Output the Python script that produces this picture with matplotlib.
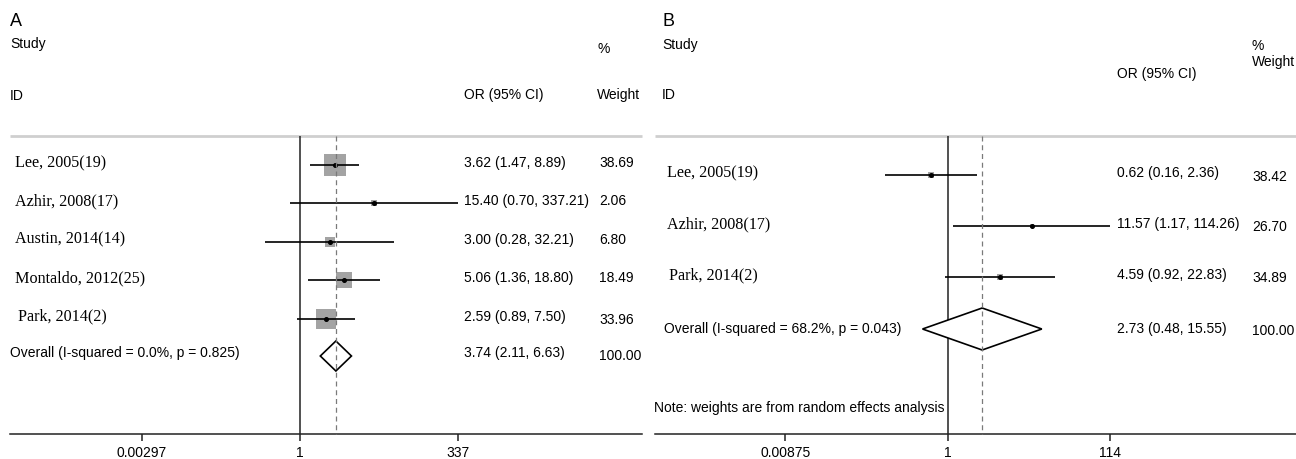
import numpy as np
import matplotlib
matplotlib.use("Agg")
import matplotlib.pyplot as plt
from matplotlib.patches import Polygon

# ---------------- data ----------------
studies_A = ["Lee, 2005(19)", "Azhir, 2008(17)", "Austin, 2014(14)",
             "Montaldo, 2012(25)", "Park, 2014(2)"]
or_A = [3.62, 15.40, 3.00, 5.06, 2.59]
lo_A = [1.47, 0.70, 0.28, 1.36, 0.89]
hi_A = [8.89, 337.21, 32.21, 18.80, 7.50]
w_A = [38.69, 2.06, 6.80, 18.49, 33.96]
overall_A = [3.74, 2.11, 6.63]
overall_label_A = "Overall (I-squared = 0.0%, p = 0.825)"
ticks_A = [0.00297, 1, 337]
ticklabels_A = ["0.00297", "1", "337"]

studies_B = ["Lee, 2005(19)", "Azhir, 2008(17)", "Park, 2014(2)"]
or_B = [0.62, 11.57, 4.59]
lo_B = [0.16, 1.17, 0.92]
hi_B = [2.36, 114.26, 22.83]
w_B = [38.42, 26.70, 34.89]
overall_B = [2.73, 0.48, 15.55]
overall_label_B = "Overall (I-squared = 68.2%, p = 0.043)"
ticks_B = [0.00875, 1, 114]
ticklabels_B = ["0.00875", "1", "114"]
note_B = "Note: weights are from random effects analysis"

# ---------------- layout ----------------
W, H = 1296, 460
fig = plt.figure(figsize=(W / 100, H / 100), dpi=100)
SANS = ["Liberation Sans", "DejaVu Sans"]
SERIF = ["Liberation Serif", "DejaVu Serif"]
FS = 10      # sans text size
FSN = 11.6   # serif study names

ov = fig.add_axes([0, 0, 1, 1])
ov.set_xlim(0, W)
ov.set_ylim(H, 0)
ov.axis("off")


def panel(x0, x1, center_px, px_per_ln, top_y, axis_y, ticks, ticklabels):
    ax = fig.add_axes([x0 / W, 0, (x1 - x0) / W, 1])
    ax.set_xscale("log")
    ax.set_xlim(np.exp((x0 - center_px) / px_per_ln), np.exp((x1 - center_px) / px_per_ln))
    ax.set_ylim(H, 0)
    ax.patch.set_alpha(0)
    for s in ["top", "left", "right"]:
        ax.spines[s].set_visible(False)
    ax.spines["bottom"].set_position(("data", axis_y))
    ax.spines["bottom"].set_linewidth(1.1)
    ax.spines["bottom"].set_color("#222222")
    ax.set_yticks([])
    ax.xaxis.set_minor_locator(matplotlib.ticker.NullLocator())
    ax.set_xticks(ticks)
    ax.set_xticklabels(ticklabels, fontsize=FS, family=SANS)
    ax.tick_params(axis="x", direction="out", length=5, width=1.1, pad=3, color="#222222")
    # top grey rule
    ov.plot([x0, x1], [top_y, top_y], color="#cfcfcf", lw=2.0, solid_capstyle="butt")
    # null line
    ax.vlines(1, top_y, axis_y, colors="#222222", lw=1.1)
    return ax


def draw_rows(ax, names, ors, los, his, ws, rows_y, box_k, name_x, or_x, w_x, w_dy):
    for i, (nm, o, l, h, w) in enumerate(zip(names, ors, los, his, ws)):
        y = rows_y[i]
        side = box_k * np.sqrt(w)
        ax.scatter([o], [y], marker="s", s=(side * 0.72) ** 2, color="#a3a3a3",
                   linewidths=0, zorder=2)
        ax.hlines(y, l, h, colors="black", lw=1.2, zorder=3)
        ax.plot([o], [y], "o", color="black", ms=2.6, zorder=4)
        ov.text(name_x[i], y - 3, nm, fontsize=FSN, family=SERIF, va="center", ha="left")
        ov.text(or_x, y - 3, f"{o:.2f} ({l:.2f}, {h:.2f})", fontsize=FS, family=SANS,
                va="center", ha="left")
        ov.text(w_x, y - 3 + w_dy[i], f"{w:.2f}", fontsize=FS, family=SANS,
                va="center", ha="left")


def draw_overall(ax, ov_vals, y, half_h, top_y, axis_y):
    o, l, h = ov_vals
    poly = Polygon([[l, y], [o, y - half_h], [h, y], [o, y + half_h]], closed=True,
                   facecolor="white", edgecolor="black", lw=1.2, zorder=3)
    ax.add_patch(poly)
    ax.vlines(o, top_y, axis_y, colors="#7a7a7a", lw=0.9, linestyles=(0, (4, 3)), zorder=4)


# ---------------- Panel A ----------------
topA, axisA = 137, 435
axA = panel(10, 642, 300, 27.2, topA, axisA, ticks_A, ticklabels_A)
rowsA = [166 + 38.4 * i for i in range(len(studies_A))]
draw_rows(axA, studies_A, or_A, lo_A, hi_A, w_A, rowsA, 3.54,
          [15, 15, 15, 15, 18], 464, 599, [0, 0, 0, 0, 3])
draw_overall(axA, overall_A, 357, 15, topA, axisA)
ov.text(10, 353, overall_label_A, fontsize=FS, family=SANS, va="center", ha="left")
ov.text(464, 353, f"{overall_A[0]:.2f} ({overall_A[1]:.2f}, {overall_A[2]:.2f})",
        fontsize=FS, family=SANS, va="center", ha="left")
ov.text(599, 356, "100.00", fontsize=FS, family=SANS, va="center", ha="left")

ov.text(10, 21, "A", fontsize=13, family=SANS, va="center", ha="left")
ov.text(10, 44, "Study", fontsize=FS, family=SANS, va="center", ha="left")
ov.text(10, 96, "ID", fontsize=FS, family=SANS, va="center", ha="left")
ov.text(597, 49, "%", fontsize=FS, family=SANS, va="center", ha="left")
ov.text(464, 95, "OR (95% CI)", fontsize=FS, family=SANS, va="center", ha="left")
ov.text(597, 95, "Weight", fontsize=FS, family=SANS, va="center", ha="left")

# ---------------- Panel B ----------------
topB, axisB = 137, 435
axB = panel(655, 1296, 947.7, 34.3, topB, axisB, ticks_B, ticklabels_B)
rowsB = [176 + 51 * i for i in range(len(studies_B))]
draw_rows(axB, studies_B, or_B, lo_B, hi_B, w_B, rowsB, 0.9,
          [667, 667, 669], 1117, 1252, [4, 3, 3])
draw_overall(axB, overall_B, 330, 21, topB, axisB)
ov.text(664, 329, overall_label_B, fontsize=FS, family=SANS, va="center", ha="left")
ov.text(1117, 329, f"{overall_B[0]:.2f} ({overall_B[1]:.2f}, {overall_B[2]:.2f})",
        fontsize=FS, family=SANS, va="center", ha="left")
ov.text(1252, 331, "100.00", fontsize=FS, family=SANS, va="center", ha="left")
ov.text(654, 408, note_B, fontsize=FS, family=SANS, va="center", ha="left")

ov.text(662, 21, "B", fontsize=13, family=SANS, va="center", ha="left")
ov.text(662, 45, "Study", fontsize=FS, family=SANS, va="center", ha="left")
ov.text(662, 95, "ID", fontsize=FS, family=SANS, va="center", ha="left")
ov.text(1252, 46, "%", fontsize=FS, family=SANS, va="center", ha="left")
ov.text(1117, 74, "OR (95% CI)", fontsize=FS, family=SANS, va="center", ha="left")
ov.text(1252, 62, "Weight", fontsize=FS, family=SANS, va="center", ha="left")

fig.savefig("out.png", dpi=100, facecolor="white")
